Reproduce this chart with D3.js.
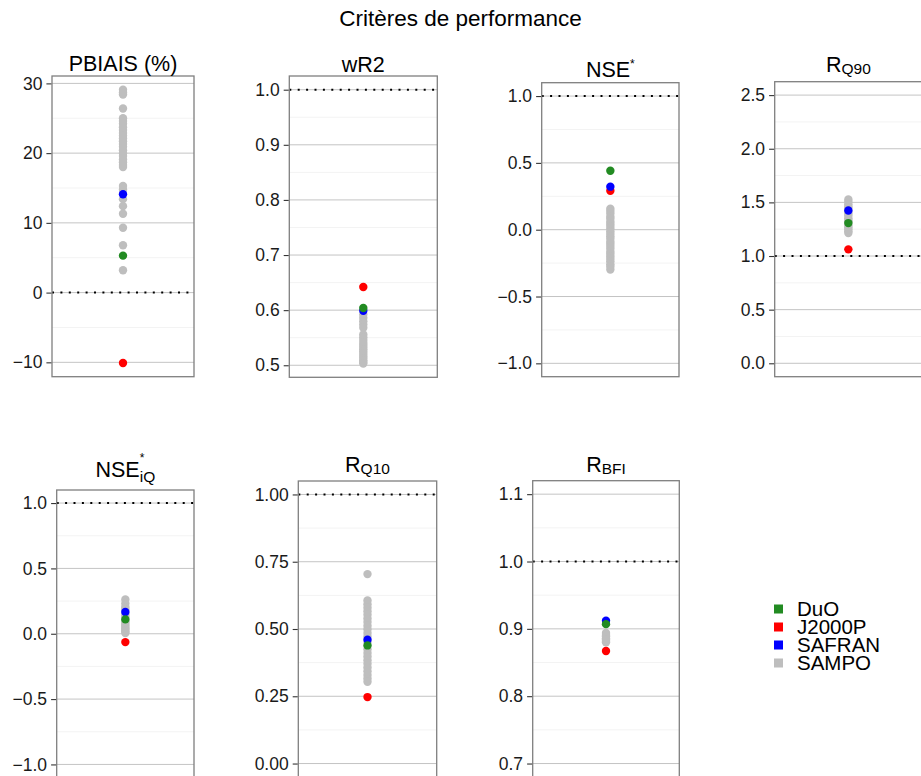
<!DOCTYPE html>
<html><head><meta charset="utf-8">
<script src="https://cdn.jsdelivr.net/npm/d3@7/dist/d3.min.js"></script>
<style>
body{margin:0;background:#fff}
svg{display:block}
text{font-family:"Liberation Sans",Arial,Helvetica,sans-serif}
</style>
</head><body>
<svg id="chart" width="921" height="776"></svg>
<script>
// ---------------- DATA ----------------
const seriesNames  = ["DuO", "J2000P", "SAFRAN", "SAMPO"];
const seriesColors = ["#228B22", "#FF0000", "#0000FF", "#BEBEBE"];
const criteria     = ["PBIAIS", "wR2", "NSE", "RQ90", "NSEiQ", "RQ10", "RBFI"];

const duoValues    = [5.3, 0.604, 0.441, 1.307, 0.110, 0.439, 0.907];
const j2000pValues = [-10.1, 0.642, 0.292, 1.062, -0.064, 0.247, 0.867];
const safranValues = [14.1, 0.599, 0.322, 1.425, 0.166, 0.460, 0.912];

const sampoPBIAIS = [29.1, 28.7, 28.4, 26.4, 25.0, 24.6, 24.2, 23.7, 23.3, 22.9, 22.5, 22.1, 21.7, 21.3, 20.9,
                     20.4, 20.0, 19.6, 19.1, 18.7, 18.3, 18.0, 15.3, 14.8, 13.4, 12.4, 11.3, 9.3, 6.8, 3.2];
const sampoWR2    = [0.592, 0.586, 0.580, 0.574, 0.568, 0.556, 0.551, 0.546, 0.541, 0.537, 0.533, 0.529,
                     0.525, 0.521, 0.517, 0.513, 0.509, 0.506, 0.503];
const sampoNSE    = [0.157, 0.139, 0.121, 0.098, 0.083, 0.061, 0.044, 0.027, 0.009, -0.012, -0.031, -0.049,
                     -0.066, -0.088, -0.104, -0.122, -0.141, -0.163, -0.179, -0.198, -0.217, -0.236, -0.258,
                     -0.276, -0.298];
const sampoRQ90   = [1.528, 1.505, 1.482, 1.461, 1.447, 1.412, 1.396, 1.378, 1.352, 1.334, 1.318, 1.287,
                     1.268, 1.249, 1.231, 1.214];
const sampoNSEiQ  = [0.262, 0.231, 0.204, 0.188, 0.152, 0.137, 0.121, 0.096, 0.082, 0.068, 0.053, 0.041,
                     0.028, 0.016, 0.006];
const sampoRQ10   = [0.704, 0.606, 0.592, 0.579, 0.566, 0.553, 0.539, 0.526, 0.512, 0.499, 0.485, 0.472,
                     0.452, 0.425, 0.411, 0.398, 0.384, 0.371, 0.357, 0.343, 0.329, 0.316, 0.304];
const sampoRBFI   = [0.894, 0.891, 0.889, 0.886, 0.884, 0.882, 0.880];
const sampoValues = [sampoPBIAIS, sampoWR2, sampoNSE, sampoRQ90, sampoNSEiQ, sampoRQ10, sampoRBFI];

const referenceLines = [0, 1, 1, 1, 1, 1, 1];
// fixed axis limits (null = from data)
const axisLimits = [null, null, [-1, 1], [0, 2.5], [-1, 1], [0, 1], [0.7, 1.1]];

const tickValues = [
  [-10, 0, 10, 20, 30],
  [0.5, 0.6, 0.7, 0.8, 0.9, 1.0],
  [-1, -0.5, 0, 0.5, 1],
  [0, 0.5, 1, 1.5, 2, 2.5],
  [-1, -0.5, 0, 0.5, 1],
  [0, 0.25, 0.5, 0.75, 1],
  [0.7, 0.8, 0.9, 1.0, 1.1]
];
const tickLabels = [
  ["\u221210", "0", "10", "20", "30"],
  ["0.5", "0.6", "0.7", "0.8", "0.9", "1.0"],
  ["\u22121.0", "\u22120.5", "0.0", "0.5", "1.0"],
  ["0.0", "0.5", "1.0", "1.5", "2.0", "2.5"],
  ["\u22121.0", "\u22120.5", "0.0", "0.5", "1.0"],
  ["0.00", "0.25", "0.50", "0.75", "1.00"],
  ["0.7", "0.8", "0.9", "1.0", "1.1"]
];
const panelTitles = [
  {main: "PBIAIS (%)"},
  {main: "wR2"},
  {main: "NSE", sup: "*"},
  {main: "R", sub: "Q90"},
  {main: "NSE", sup: "*", sub: "iQ"},
  {main: "R", sub: "Q10"},
  {main: "R", sub: "BFI"}
];
const mainTitle = "Crit\u00e8res de performance";

// ---------------- LAYOUT ----------------
const layout = [
  {x0: 52,    x1: 194,   y0: 76,    y1: 376.7, ty: 71,    supDy: 0,     subDy: 0},
  {x0: 289.3, x1: 437.3, y0: 76,    y1: 377.3, ty: 71.7,  supDy: 0,     subDy: 0},
  {x0: 541.7, x1: 679,   y0: 82.7,  y1: 376.7, ty: 77.3,  supDy: -9.3,  subDy: 0},
  {x0: 774.7, x1: 922,   y0: 81.7,  y1: 376.7, ty: 72.3,  supDy: 0,     subDy: 2},
  {x0: 56.7,  x1: 194,   y0: 490,   y1: 777.5, ty: 476.7, supDy: -14.4, subDy: 20},
  {x0: 298.3, x1: 436.7, y0: 481,   y1: 777,   ty: 472.3, supDy: 0,     subDy: 1.5},
  {x0: 532.7, x1: 679.3, y0: 480.7, y1: 777,   ty: 471.7, supDy: 0,     subDy: 1.8}
];
const FONT_TICK = 17.5, FONT_TITLE = 21.5, FONT_SUB = 15.5, FONT_SUP = 12, FONT_MAIN = 22.5, FONT_LEG = 20.5;
const R = 4.2;

const svg = d3.select("#chart");

svg.append("text")
  .attr("x", 460.5).attr("y", 26)
  .attr("text-anchor", "middle")
  .attr("font-size", FONT_MAIN)
  .attr("fill", "#000")
  .text(mainTitle);

criteria.forEach((crit, i) => {
  const L = layout[i];
  const g = svg.append("g");

  // y domain (ggplot-like 5% expansion)
  let lim = axisLimits[i];
  if (!lim) {
    const all = [duoValues[i], j2000pValues[i], safranValues[i], referenceLines[i], ...sampoValues[i]];
    lim = d3.extent(all);
  }
  const span = lim[1] - lim[0];
  const y = d3.scaleLinear().domain([lim[0] - 0.05 * span, lim[1] + 0.05 * span]).range([L.y1, L.y0]);
  const x = d3.scalePoint().domain([crit]).range([L.x0, L.x1]).padding(0.5);

  // minor grid
  const tv = tickValues[i];
  const step = tv[1] - tv[0];
  const minors = [];
  for (let k = -1; k < tv.length; k++) {
    const m = tv[0] + (k + 0.5) * step;
    const d = y.domain();
    if (m > d[0] && m < d[1]) minors.push(m);
  }
  g.selectAll(".minor").data(minors).join("line")
    .attr("x1", L.x0).attr("x2", L.x1)
    .attr("y1", d => y(d)).attr("y2", d => y(d))
    .attr("stroke", "#f3f3f3").attr("stroke-width", 1);

  // major grid
  g.selectAll(".major").data(tv).join("line")
    .attr("x1", L.x0).attr("x2", L.x1)
    .attr("y1", d => y(d)).attr("y2", d => y(d))
    .attr("stroke", "#c4c4c4").attr("stroke-width", 1);

  // reference line (dotted)
  g.append("line")
    .attr("x1", L.x0).attr("x2", L.x1)
    .attr("y1", y(referenceLines[i])).attr("y2", y(referenceLines[i]))
    .attr("stroke", "#000").attr("stroke-width", 2)
    .attr("stroke-dasharray", "2,6.4");

  // points: SAMPO, J2000P, SAFRAN, DuO (draw order)
  const pts = [];
  sampoValues[i].forEach(v => pts.push({v, s: 3}));
  pts.push({v: j2000pValues[i], s: 1});
  pts.push({v: safranValues[i], s: 2});
  pts.push({v: duoValues[i], s: 0});
  g.selectAll(".pt").data(pts).join("circle")
    .attr("cx", x(crit)).attr("cy", d => y(d.v)).attr("r", R)
    .attr("fill", d => seriesColors[d.s]);

  // border
  g.append("rect")
    .attr("x", L.x0).attr("y", L.y0)
    .attr("width", L.x1 - L.x0).attr("height", L.y1 - L.y0)
    .attr("fill", "none").attr("stroke", "#7f7f7f").attr("stroke-width", 1.3);

  // axis
  const axis = d3.axisLeft(y).tickValues(tv).tickSize(5).tickPadding(4)
    .tickFormat((d, j) => tickLabels[i][j]);
  const ag = g.append("g").attr("transform", `translate(${L.x0 - 0.6},0)`).call(axis);
  ag.select(".domain").remove();
  ag.selectAll(".tick line").attr("stroke", "#333").attr("stroke-width", 1.1);
  ag.selectAll(".tick text").attr("font-size", FONT_TICK).attr("fill", "#1a1a1a")
    .attr("font-family", '"Liberation Sans",Arial,Helvetica,sans-serif');

  // panel title
  const T = panelTitles[i];
  const t = svg.append("text")
    .attr("x", x(crit)).attr("y", L.ty)
    .attr("text-anchor", "middle").attr("font-size", FONT_TITLE).attr("fill", "#000");
  t.append("tspan").text(T.main);
  if (T.sup) {
    t.append("tspan").attr("font-size", FONT_SUP).attr("dy", L.supDy).text(T.sup);
  }
  if (T.sub) {
    const back = T.sup ? -FONT_SUP * 0.389 : 0;
    t.append("tspan").attr("font-size", FONT_SUB).attr("dx", back).attr("dy", L.subDy).text(T.sub);
  }
});

// legend
const legY = d3.scalePoint().domain(seriesNames).range([609, 663]);
const lg = svg.append("g");
seriesNames.forEach((name, k) => {
  lg.append("rect").attr("x", 774).attr("y", legY(name) - 4.5)
    .attr("width", 9).attr("height", 9).attr("fill", seriesColors[k]);
  lg.append("text").attr("x", 797).attr("y", legY(name)).attr("dy", "0.36em")
    .attr("font-size", FONT_LEG).attr("fill", "#000").text(name);
});
</script>
</body></html>
